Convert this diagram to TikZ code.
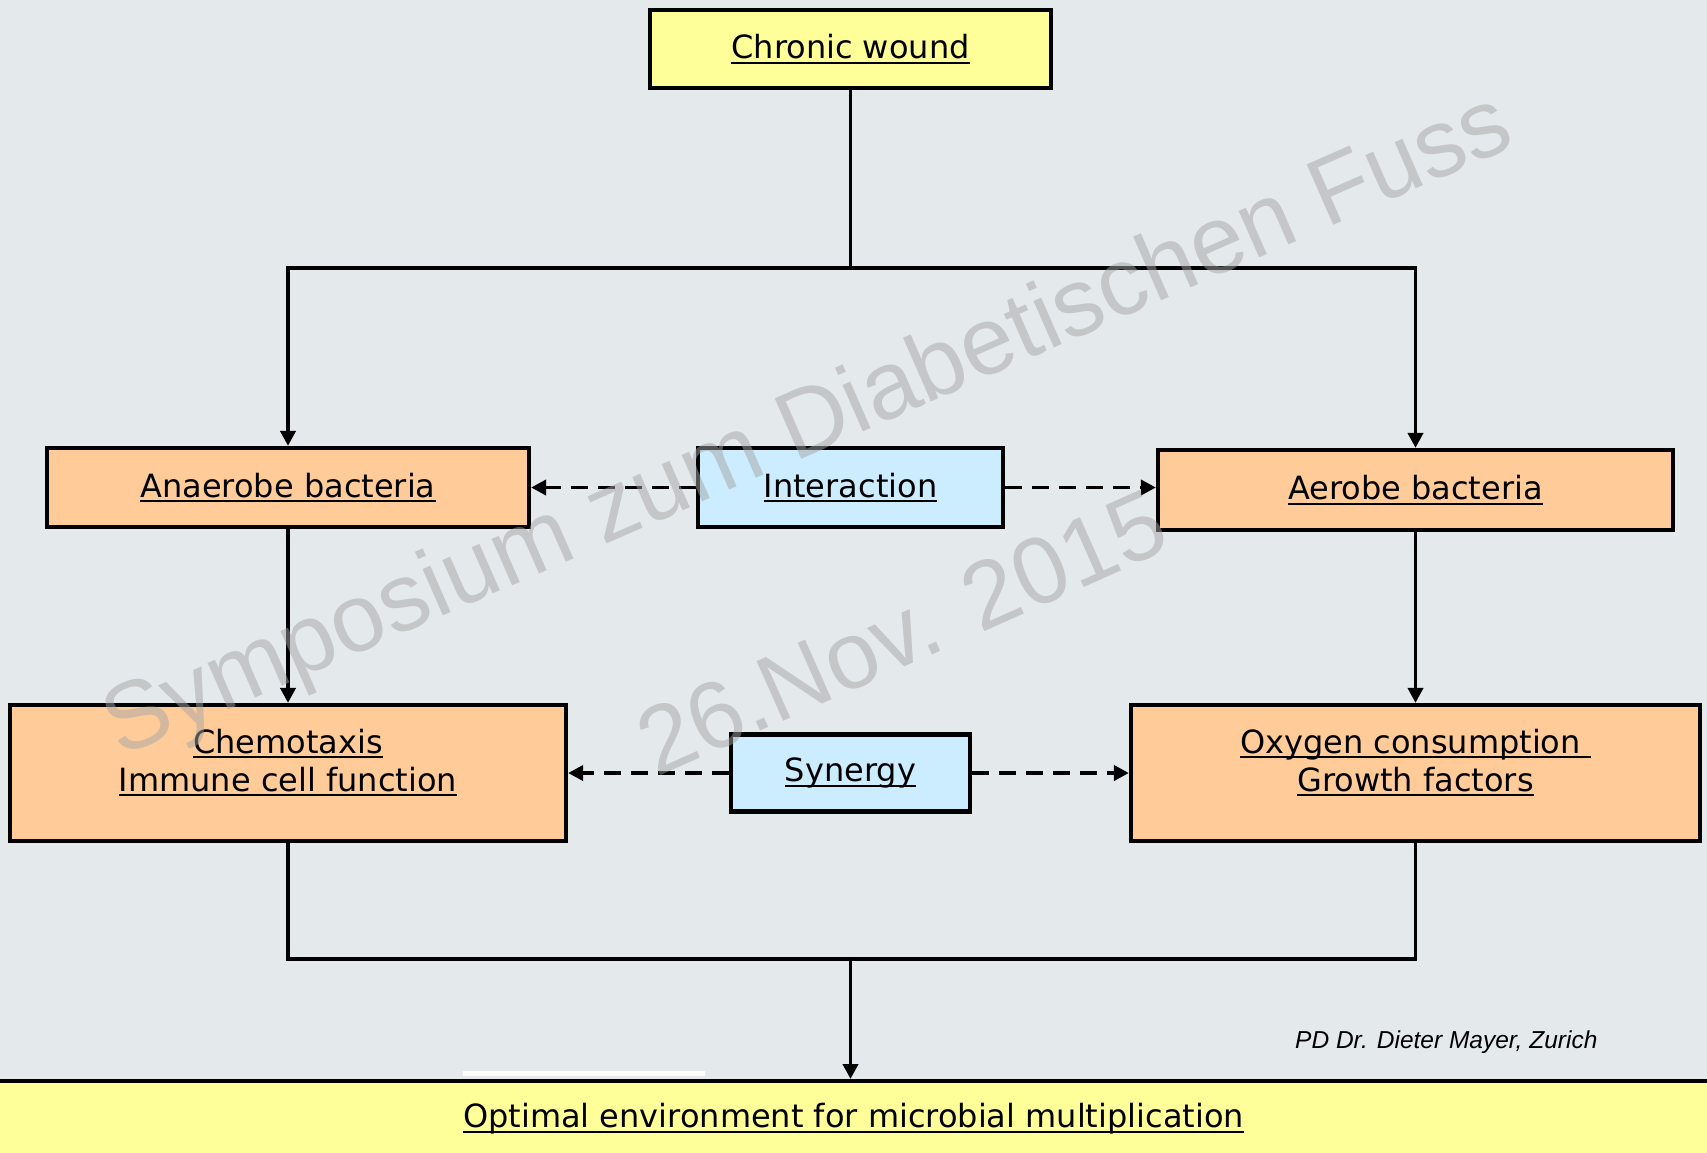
\documentclass[tikz,border=0pt]{standalone}
\usepackage{fontspec}
\setmainfont{DejaVu Sans}
\newfontfamily\wmfont{Liberation Sans}
\usetikzlibrary{arrows.meta,calc}
\usetikzlibrary{positioning}
\definecolor{slidebg}{RGB}{228,233,236}
\definecolor{boxyellow}{RGB}{255,255,153}
\definecolor{boxorange}{RGB}{255,204,153}
\definecolor{boxblue}{RGB}{204,236,255}
\definecolor{wmgray}{RGB}{165,165,165}
\newlength{\ulw}
\newcommand{\ultext}[1]{\settowidth{\ulw}{#1}\rlap{\rule[-5pt]{\ulw}{2pt}}#1\mbox{}}
\tikzset{box/.style={draw,line width=4.2pt,align=center,inner sep=0pt,font=\fontsize{32}{38}\selectfont},
  ybox/.style={box,fill=boxyellow},
  obox/.style={box,fill=boxorange},
  bbox/.style={box,fill=boxblue},
  conn/.style={line width=3.7pt},
  link/.style={conn,-{Triangle[length=15pt,width=15pt]}},
  dlink/.style={link,dash pattern=on 17pt off 10pt},
  wm/.style={text=wmgray,text opacity=0.5,rotate=24,anchor=base west,inner sep=0pt,font=\wmfont\fontsize{95}{110}\selectfont}}

\begin{document}
\begin{tikzpicture}[x=1pt,y=-1pt,line join=miter]
\useasboundingbox (0,0) rectangle (1707,1152);
\clip (0,0) rectangle (1707,1152);
\fill[slidebg] (0,0) rectangle (1707,1152);
% --- boxes
\node[ybox,minimum width=401pt,minimum height=78pt] (wound) at (850.5,49) {\ultext{Chronic wound}};
\node[obox,minimum width=482pt,minimum height=79pt] (anaerobe) at (288,487.5) {\ultext{Anaerobe bacteria}};
\node[bbox,minimum width=305pt,minimum height=79pt] (interact) at (850.5,487.5) {\ultext{Interaction}};
\node[obox,minimum width=515pt,minimum height=80pt] (aerobe) at (1415.5,490) {\ultext{Aerobe bacteria}};
\node[obox,minimum width=556pt,minimum height=136pt] (chemo) at (288,773) {\ultext{Chemotaxis}\\\ultext{Immune cell function}\\[-12pt]\mbox{}};
\node[bbox,minimum width=239pt,minimum height=77pt] (synergy) at (850.5,773) {\ultext{Synergy}};
\node[obox,minimum width=569pt,minimum height=136pt] (oxygen) at (1415.5,773) {\ultext{Oxygen consumption\ }\\\ultext{Growth factors}\\[-12pt]\mbox{}};
\fill[white] (463,1071) rectangle (705,1076);
\node[ybox,anchor=north,minimum width=1730pt,minimum height=76pt] (optimal) at (853.5,1079) {\ultext{Optimal environment for microbial multiplication}};
\node[anchor=base west,inner sep=0pt,font=\wmfont\itshape\fontsize{24.5}{28}\selectfont] (author) at (1295,1048) {PD Dr. Dieter Mayer, Zurich};
% --- connectors
\coordinate (split) at (850.5,268);
\coordinate (merge) at (850.5,959);
\draw[conn] (wound.south) -- (split);
\foreach \n in {anaerobe,aerobe} {\draw[link] (split) -| (\n.north);}
\draw[link] (anaerobe.south) -- (chemo.north);
\draw[link] (aerobe.south) -- (oxygen.north);
\draw[conn] (chemo.south) |- (merge) -| (oxygen.south);
\draw[link] (merge) -- (merge |- optimal.north);
\draw[dlink] (interact.west) -- (anaerobe.east);
\draw[dlink] (interact.east) -- (aerobe.west |- interact.east);
\draw[dlink] (synergy.west) -- (chemo.east);
\draw[dlink] (synergy.east) -- (oxygen.west);
% --- watermark
\node[wm,rotate=-0.3,font=\wmfont\fontsize{96}{110}\selectfont] (wmtitle) at (120,758) {Symposium zum Diabetischen Fuss};
\node[wm] (wmdate) at (656,778) {26.Nov. 2015};
\end{tikzpicture}
\end{document}
